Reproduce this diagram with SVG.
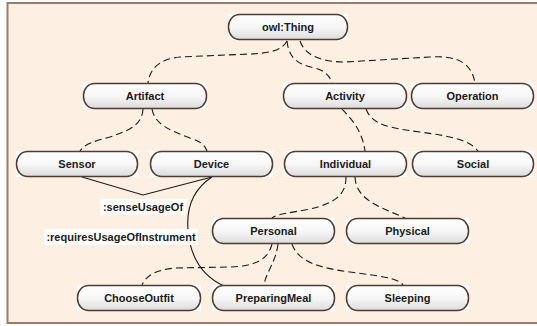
<svg xmlns="http://www.w3.org/2000/svg" width="537" height="326" viewBox="0 0 537 326">
<defs>
<linearGradient id="ng" x1="0" y1="0" x2="0" y2="1">
<stop offset="0" stop-color="#ffffff"/>
<stop offset="0.5" stop-color="#f7f7f7"/>
<stop offset="1" stop-color="#dcdcdc"/>
</linearGradient>
<style>
.bg{fill:#fdefe1;stroke:#9c7b68;stroke-width:2}
.nb{fill:#ffffff}
.n{fill:url(#ng);stroke:#4e3c31;stroke-width:1.5}
.t{font-family:"Liberation Sans",Arial,sans-serif;font-weight:bold;font-size:11px;fill:#1a1a1a;text-anchor:middle;dominant-baseline:central}
.d{fill:none;stroke:#1a1a1a;stroke-width:1.1;stroke-dasharray:7,4}
.s{fill:none;stroke:#1a1a1a;stroke-width:1.1}
.lb{fill:#ffffff}
</style>
</defs>
<rect class="bg" x="7.5" y="3" width="540" height="320"/>
<g id="connectors">
<path class="d" d="M287 41 C282 50 272 53 250 54 L180 57 C160 59 150 68 148 83"/>
<path class="d" d="M287 41 C289 60 300 65 315 68 C325 71 330 76 332 83"/>
<path class="d" d="M300 41 C305 55 320 62 345 62 L430 57 C460 55 472 65 475 83"/>
<path class="d" d="M143 109 C142 125 130 130 110 137 C95 141 84 144 80 151"/>
<path class="d" d="M152 109 C155 125 170 130 190 138 C200 141 205 145 207 151"/>
<path class="d" d="M342 109 C352 120 362 130 365 151"/>
<path class="d" d="M366 109 C372 125 390 128 420 132 C450 136 470 140 478 151"/>
<path class="d" d="M346 177 C346 195 335 203 310 209 C290 213 276 214 272 218"/>
<path class="d" d="M355 177 C356 200 380 207 405 218"/>
<path class="d" d="M272 244 C268 260 255 266 230 267 L175 268 C155 270 146 276 142 285"/>
<path class="d" d="M278 244 C276 262 266 272 264 285"/>
<path class="d" d="M292 244 C298 262 320 268 350 272 C380 276 398 278 403 285"/>
<polyline class="s" points="82,177 143,195 212,177"/>
<path class="s" d="M212 177 C195 188 186 205 188 230 C190 255 200 275 224 286"/>
<rect class="lb" x="100" y="199" width="86" height="16"/>
<text class="t" x="143" y="207">:senseUsageOf</text>
<rect class="lb" x="44" y="229" width="154" height="16"/>
<text class="t" x="121" y="237">:requiresUsageOfInstrument</text>
</g>
<g id="owlThing"><rect class="nb" x="228" y="14" width="120" height="26"/><rect class="n" x="228.5" y="14.5" width="119" height="25" rx="11" ry="12"/><text class="t" x="288" y="27">owl:Thing</text></g>
<g id="Artifact"><rect class="nb" x="83" y="83" width="124" height="26"/><rect class="n" x="83.5" y="83.5" width="123" height="25" rx="11" ry="12"/><text class="t" x="145" y="96">Artifact</text></g>
<g id="Activity"><rect class="nb" x="283" y="83" width="124" height="26"/><rect class="n" x="283.5" y="83.5" width="123" height="25" rx="11" ry="12"/><text class="t" x="345" y="96">Activity</text></g>
<g id="Operation"><rect class="nb" x="411" y="83" width="123" height="26"/><rect class="n" x="411.5" y="83.5" width="122" height="25" rx="11" ry="12"/><text class="t" x="472.5" y="96">Operation</text></g>
<g id="Sensor"><rect class="nb" x="16" y="151" width="122" height="26"/><rect class="n" x="16.5" y="151.5" width="121" height="25" rx="11" ry="12"/><text class="t" x="77" y="164">Sensor</text></g>
<g id="Device"><rect class="nb" x="150" y="151" width="123" height="26"/><rect class="n" x="150.5" y="151.5" width="122" height="25" rx="11" ry="12"/><text class="t" x="211.5" y="164">Device</text></g>
<g id="Individual"><rect class="nb" x="284" y="151" width="123" height="26"/><rect class="n" x="284.5" y="151.5" width="122" height="25" rx="11" ry="12"/><text class="t" x="345.5" y="164">Individual</text></g>
<g id="Social"><rect class="nb" x="412" y="151" width="122" height="26"/><rect class="n" x="412.5" y="151.5" width="121" height="25" rx="11" ry="12"/><text class="t" x="473" y="164">Social</text></g>
<g id="Personal"><rect class="nb" x="212" y="218" width="123" height="26"/><rect class="n" x="212.5" y="218.5" width="122" height="25" rx="11" ry="12"/><text class="t" x="273.5" y="231">Personal</text></g>
<g id="Physical"><rect class="nb" x="346" y="218" width="123" height="26"/><rect class="n" x="346.5" y="218.5" width="122" height="25" rx="11" ry="12"/><text class="t" x="407.5" y="231">Physical</text></g>
<g id="ChooseOutfit"><rect class="nb" x="77" y="285" width="124" height="26"/><rect class="n" x="77.5" y="285.5" width="123" height="25" rx="11" ry="12"/><text class="t" x="139" y="298">ChooseOutfit</text></g>
<g id="PreparingMeal"><rect class="nb" x="212" y="285" width="123" height="26"/><rect class="n" x="212.5" y="285.5" width="122" height="25" rx="11" ry="12"/><text class="t" x="273.5" y="298">PreparingMeal</text></g>
<g id="Sleeping"><rect class="nb" x="346" y="285" width="123" height="26"/><rect class="n" x="346.5" y="285.5" width="122" height="25" rx="11" ry="12"/><text class="t" x="407.5" y="298">Sleeping</text></g>
</svg>
